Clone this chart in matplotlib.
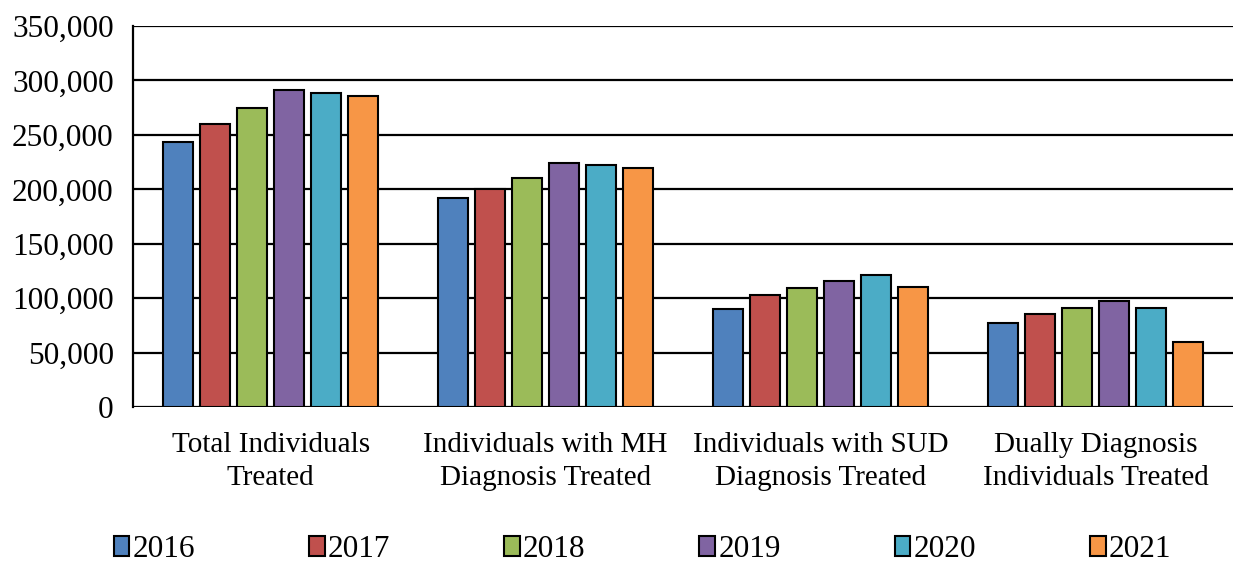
import numpy as np
import matplotlib.pyplot as plt
from matplotlib.ticker import FuncFormatter

plt.rcParams['font.family'] = ['Liberation Serif', 'DejaVu Serif']

categories = ["Total Individuals\nTreated",
              "Individuals with MH\nDiagnosis Treated",
              "Individuals with SUD\nDiagnosis Treated",
              "Dually Diagnosis\nIndividuals Treated"]
years = ["2016", "2017", "2018", "2019", "2020", "2021"]
values = {
    "2016": [243600, 192400, 90100, 77200],
    "2017": [260000, 200700, 102600, 85200],
    "2018": [274800, 210800, 109700, 91000],
    "2019": [291400, 224500, 115800, 97700],
    "2020": [288300, 222400, 121300, 90700],
    "2021": [285600, 219400, 110300, 59500],
}
colors = ["#4F81BD", "#C0504D", "#9BBB59", "#8064A2", "#4BACC6", "#F79646"]

fig = plt.figure(figsize=(12.33, 5.64), dpi=100)
ax = fig.add_axes([0.108, 0.278, 0.892, 0.676])

x = np.arange(len(categories))
pitch = 0.1345
width = 0.107
for i, yr in enumerate(years):
    off = (i - 2.5) * pitch
    ax.bar(x + off, values[yr], width, color=colors[i], edgecolor="black",
           linewidth=1.5, label=yr, zorder=3)

ax.set_xlim(-0.5, 3.5)
ax.set_ylim(0, 350000)
ax.set_yticks(np.arange(0, 350001, 50000))
ax.yaxis.set_major_formatter(FuncFormatter(lambda v, p: f"{int(v):,}"))
ax.grid(axis="y", color="black", linewidth=1.6, zorder=0)
ax.set_xticks(x)
ax.set_xticklabels(categories, fontsize=21, linespacing=1.36)
ax.tick_params(axis="y", labelsize=22.5, length=0, pad=14)
ax.tick_params(axis="x", length=0, pad=18)
for s in ["top", "right", "bottom"]:
    ax.spines[s].set_visible(False)
ax.spines["left"].set_linewidth(1.6)

fig.legend(loc="center", bbox_to_anchor=(0.521, 0.026), ncol=6,
           frameon=False, fontsize=22.5, handlelength=0.5, handleheight=0.6,
           handletextpad=0.1, columnspacing=3.65)

fig.savefig("out.png", dpi=100)
